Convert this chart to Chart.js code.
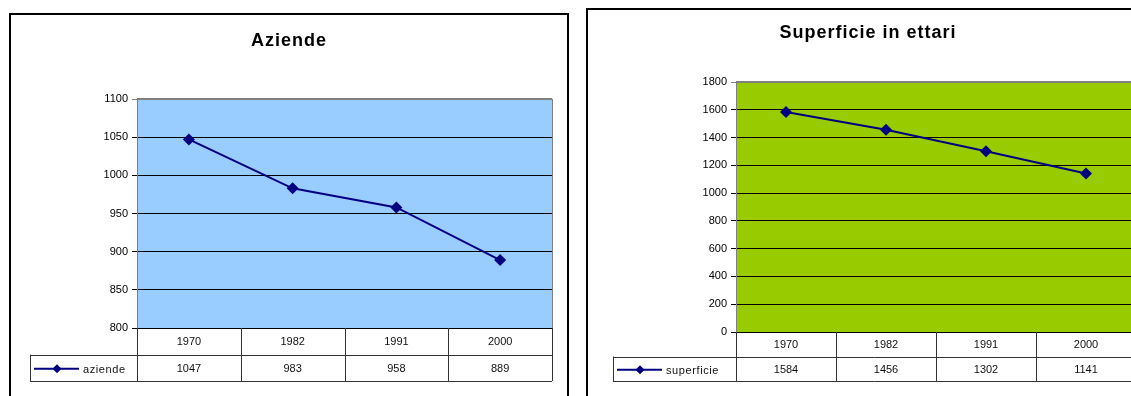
<!DOCTYPE html>
<html>
<head>
<meta charset="utf-8">
<title>Aziende e superficie</title>
<script src="https://cdn.jsdelivr.net/npm/chart.js@4.4.1/dist/chart.umd.min.js"></script>
<style>
  html, body { margin: 0; padding: 0; background: #fff; overflow: hidden; }
  body { position: relative; width: 1131px; height: 396px; }
  .frame { position: absolute; box-sizing: border-box; border: 2px solid #000; }
  canvas { position: absolute; top: 0; }
</style>
</head>
<body>
<div class="frame" style="left:9px;top:13px;width:560px;height:420px"></div>
<div class="frame" style="left:586px;top:8px;width:600px;height:420px"></div>
<canvas id="chart-aziende" style="left:0" width="575" height="396"></canvas>
<canvas id="chart-superficie" style="left:580px" width="570" height="396"></canvas>
<script>
// dati censimento
const anni = ['1970', '1982', '1991', '2000'];
const aziende = [1047, 983, 958, 889];
const superficie = [1584, 1456, 1302, 1141];

const FONT = '"Liberation Sans", Arial, sans-serif';
const NAVY = '#000080';

// sfondo dell'area, bordo grigio, titolo e tabella dati sotto l'asse
const excelPlot = {
  id: 'excelPlot',
  beforeDraw(chart, args, opts) {
    const { ctx, chartArea: a } = chart;
    ctx.save();
    ctx.fillStyle = opts.plotColor;
    ctx.fillRect(a.left, a.top, a.right - a.left, a.bottom - a.top);
    ctx.restore();
  },
  afterDraw(chart, args, opts) {
    const { ctx, chartArea: a } = chart;
    const xs = chart.scales.x;
    const ds = chart.data.datasets[0];
    const labels = chart.data.labels;
    const colW = (a.right - a.left) / labels.length;
    const h = opts.rowHeight;
    const r1 = a.bottom + h, r2 = a.bottom + 2 * h;
    const L = opts.legendLeft;
    const px = v => Math.round(v) + 0.5;

    ctx.save();
    // titolo
    ctx.font = 'bold 18px ' + FONT;
    ctx.letterSpacing = '1px';
    ctx.textAlign = 'center';
    ctx.textBaseline = 'middle';
    ctx.fillStyle = '#000';
    ctx.fillText(opts.title, opts.titleX, opts.titleY);

    // bordo destro e superiore dell'area
    ctx.strokeStyle = '#808080';
    ctx.lineWidth = 1;
    ctx.beginPath();
    ctx.moveTo(px(a.right), a.top);
    ctx.lineTo(px(a.right), a.bottom);
    ctx.stroke();
    ctx.lineWidth = 2;
    ctx.beginPath();
    ctx.moveTo(a.left, a.top);
    ctx.lineTo(a.right, a.top);
    ctx.stroke();

    // griglia della tabella
    ctx.strokeStyle = '#333';
    ctx.lineWidth = 1;
    ctx.beginPath();
    for (let i = 0; i <= labels.length; i++) {
      const x = px(a.left + i * colW);
      ctx.moveTo(x, a.bottom);
      ctx.lineTo(x, r2);
    }
    ctx.moveTo(px(L), r1);
    ctx.lineTo(px(L), r2);
    ctx.moveTo(L, px(r1));
    ctx.lineTo(a.right, px(r1));
    ctx.moveTo(L, px(r2));
    ctx.lineTo(a.right, px(r2));
    ctx.stroke();

    // anni e valori
    ctx.font = '11px ' + FONT;
    ctx.letterSpacing = '0px';
    ctx.fillStyle = '#111';
    labels.forEach((lab, i) => {
      const cx = xs.getPixelForValue(i);
      ctx.fillText(lab, cx, a.bottom + h / 2 + 1);
      ctx.fillText(String(ds.data[i]), cx, r1 + h / 2 + 1);
    });

    // legenda nella tabella
    const ly = r1 + h / 2 + 1;
    ctx.strokeStyle = ds.borderColor;
    ctx.lineWidth = 2;
    ctx.beginPath();
    ctx.moveTo(L + 4, ly);
    ctx.lineTo(L + 49, ly);
    ctx.stroke();
    ctx.fillStyle = ds.backgroundColor;
    ctx.beginPath();
    ctx.moveTo(L + 27, ly - 4.5);
    ctx.lineTo(L + 31.5, ly);
    ctx.lineTo(L + 27, ly + 4.5);
    ctx.lineTo(L + 22.5, ly);
    ctx.closePath();
    ctx.fill();
    ctx.fillStyle = '#111';
    ctx.textAlign = 'left';
    ctx.letterSpacing = '0.6px';
    ctx.fillText(ds.label, L + 53, ly + 1);
    ctx.restore();
  }
};

function makeChart(id, label, values, y, box) {
  return new Chart(document.getElementById(id), {
    type: 'line',
    data: {
      labels: anni,
      datasets: [{
        label,
        data: values,
        borderColor: NAVY,
        backgroundColor: NAVY,
        borderWidth: 2,
        tension: 0,
        pointStyle: 'rectRot',
        pointRadius: 6,
        pointHoverRadius: 6,
        pointBorderWidth: 0
      }]
    },
    options: {
      responsive: false,
      animation: false,
      events: [],
      layout: { padding: { left: 0, top: box.top, right: box.right, bottom: 0 } },
      scales: {
        x: {
          type: 'category',
          offset: true,
          ticks: { display: false },
          grid: { display: false },
          border: { display: false },
          afterFit: s => { s.height = box.xHeight; }
        },
        y: {
          min: y.min,
          max: y.max,
          ticks: {
            stepSize: y.step,
            color: '#000',
            padding: 4,
            font: { family: FONT, size: 11 },
            callback: v => String(v)
          },
          grid: {
            color: ctx => (ctx.tick && ctx.tick.value === y.max) ? '#808080' : '#000',
            lineWidth: 1,
            tickLength: 5
          },
          border: { display: true, color: '#808080', width: 1 },
          afterFit: s => { s.width = box.yWidth; }
        }
      },
      plugins: {
        legend: { display: false },
        title: { display: false },
        tooltip: { enabled: false },
        excelPlot: {
          plotColor: box.plotColor,
          title: box.title,
          titleX: box.titleX,
          titleY: box.titleY,
          rowHeight: box.rowHeight,
          legendLeft: box.legendLeft
        }
      }
    },
    plugins: [excelPlot]
  });
}

makeChart('chart-aziende', 'aziende', aziende,
  { min: 800, max: 1100, step: 50 },
  { top: 99, right: 23, yWidth: 137, xHeight: 68, plotColor: '#99CCFF',
    title: 'Aziende', titleX: 289, titleY: 41, rowHeight: 26.5, legendLeft: 30 });

makeChart('chart-superficie', 'superficie', superficie,
  { min: 0, max: 1800, step: 200 },
  { top: 82, right: 14, yWidth: 156, xHeight: 64, plotColor: '#99CC00',
    title: 'Superficie in ettari', titleX: 288, titleY: 33, rowHeight: 24.5, legendLeft: 33 });
</script>
</body>
</html>
